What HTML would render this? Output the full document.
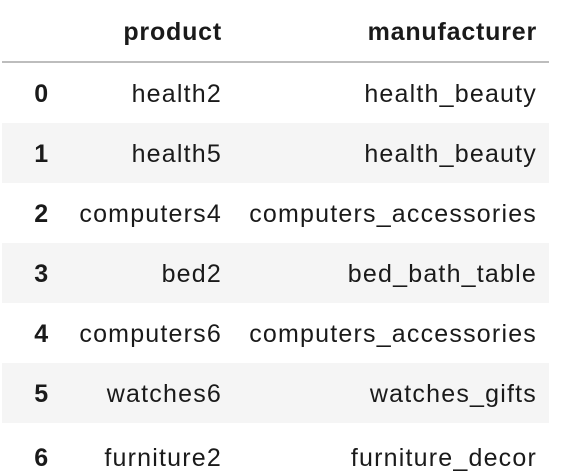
<!DOCTYPE html>
<html><head><style>
body{margin:0;width:564px;height:451px;overflow:hidden;background:#fff;font-family:"Liberation Sans",Arial,sans-serif;color:#1a1a1a;position:relative}
.r{position:absolute;left:2px;width:547px;height:60px}
.g{background:#f5f5f5}
.t{position:absolute;font-size:25px;line-height:25px;white-space:nowrap;letter-spacing:1.2px}
.b{font-weight:bold;letter-spacing:0.8px}
</style></head><body>
<div style="position:absolute;left:2px;top:61px;width:547px;height:2px;background:#bdbdbd"></div>
<div class="r g" style="top:123px"></div>
<div class="r g" style="top:243px"></div>
<div class="r g" style="top:363px"></div>

<div class="t b" style="right:342px;top:20px">product</div>
<div class="t b" style="right:27px;top:20px">manufacturer</div>

<div class="t b" style="right:515px;top:82px">0</div>
<div class="t" style="right:342px;top:82px">health2</div>
<div class="t" style="right:27px;top:82px">health_beauty</div>

<div class="t b" style="right:515px;top:142px">1</div>
<div class="t" style="right:342px;top:142px">health5</div>
<div class="t" style="right:27px;top:142px">health_beauty</div>

<div class="t b" style="right:515px;top:202px">2</div>
<div class="t" style="right:342px;top:202px">computers4</div>
<div class="t" style="right:27px;top:202px">computers_accessories</div>

<div class="t b" style="right:515px;top:262px">3</div>
<div class="t" style="right:342px;top:262px">bed2</div>
<div class="t" style="right:27px;top:262px">bed_bath_table</div>

<div class="t b" style="right:515px;top:322px">4</div>
<div class="t" style="right:342px;top:322px">computers6</div>
<div class="t" style="right:27px;top:322px">computers_accessories</div>

<div class="t b" style="right:515px;top:382px">5</div>
<div class="t" style="right:342px;top:382px">watches6</div>
<div class="t" style="right:27px;top:382px">watches_gifts</div>

<div class="t b" style="right:515px;top:446px">6</div>
<div class="t" style="right:342px;top:446px">furniture2</div>
<div class="t" style="right:27px;top:446px">furniture_decor</div>
</body></html>
